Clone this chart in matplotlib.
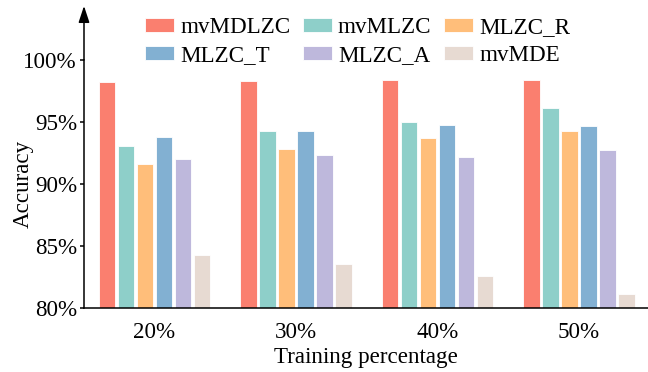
import numpy as np
import matplotlib
matplotlib.use("Agg")
import matplotlib.pyplot as plt

plt.rcParams['font.family'] = ['Liberation Serif', 'DejaVu Serif']
plt.rcParams['mathtext.fontset'] = 'stix'

groups = ["20%", "30%", "40%", "50%"]
methods = ["mvMDLZC", "mvMLZC", "MLZC_R", "MLZC_T", "MLZC_A", "mvMDE"]
mvMDLZC = [98.2, 98.3, 98.4, 98.4]
mvMLZC = [93.1, 94.3, 95.0, 96.1]
MLZC_R = [91.6, 92.8, 93.7, 94.25]
MLZC_T = [93.8, 94.3, 94.75, 94.7]
MLZC_A = [92.0, 92.3, 92.2, 92.75]
mvMDE = [84.25, 83.55, 82.55, 81.1]
colors = ["#FA7F6F", "#8ECFC9", "#FFBE7A", "#82B0D2", "#BEB8DC", "#E7DAD2"]
yticks = [80, 85, 90, 95, 100]

series = [mvMDLZC, mvMLZC, MLZC_R, MLZC_T, MLZC_A, mvMDE]
FS = 16.6

fig = plt.figure(figsize=(6.48, 3.72), dpi=100)
ax = fig.add_axes([84 / 648, 1 - 308 / 372, 1 - 84 / 648, 248 / 372])

x = np.arange(len(groups))
step = 0.134
width = 0.118
handles = []
for i, (vals, name, c) in enumerate(zip(series, methods, colors)):
    offs = (i - 2.5) * step
    h = ax.bar(x + offs, np.array(vals) - 80, bottom=80, width=width,
               color=c, edgecolor="white", linewidth=0.6, label=name)
    handles.append(h)

ax.set_xlim(-0.498, 3.488)
ax.set_ylim(80, 100)
ax.set_yticks(yticks)
ax.set_yticklabels([f"{t}%" for t in yticks])
ax.set_xticks(x)
ax.set_xticklabels(groups)

for s in ["top", "right"]:
    ax.spines[s].set_visible(False)
for s in ["left", "bottom"]:
    ax.spines[s].set_linewidth(1.1)

ax.tick_params(axis="y", direction="out", length=3, width=1.1, pad=2, labelsize=FS)
ax.tick_params(axis="x", length=0, pad=10, labelsize=FS)

ax.set_xlabel("Training percentage", fontsize=FS, labelpad=3)
ax.set_ylabel("Accuracy", fontsize=FS)
ax.yaxis.set_label_coords(-0.089, 0.5)

# extended y axis with arrow head
ax.annotate("", xy=(0, 1.218), xytext=(0, 1.0), xycoords="axes fraction",
            textcoords="axes fraction",
            arrowprops=dict(arrowstyle="-|>,head_length=1.0,head_width=0.33",
                            mutation_scale=10, lw=1.1, color="black",
                            shrinkA=0, shrinkB=0), annotation_clip=False)

# legend laid out row-wise in three columns
order = [0, 3, 1, 4, 2, 5]
leg = fig.legend([handles[k] for k in order], [methods[k] for k in order],
                 ncol=3, loc="upper left", bbox_to_anchor=(145 / 648, 1 - 17 / 372),
                 frameon=False, fontsize=FS, handlelength=1.27, handleheight=0.55,
                 handletextpad=0.25, columnspacing=0.55, labelspacing=0.3,
                 borderaxespad=0, borderpad=0)

fig.savefig("out.png", dpi=100)
